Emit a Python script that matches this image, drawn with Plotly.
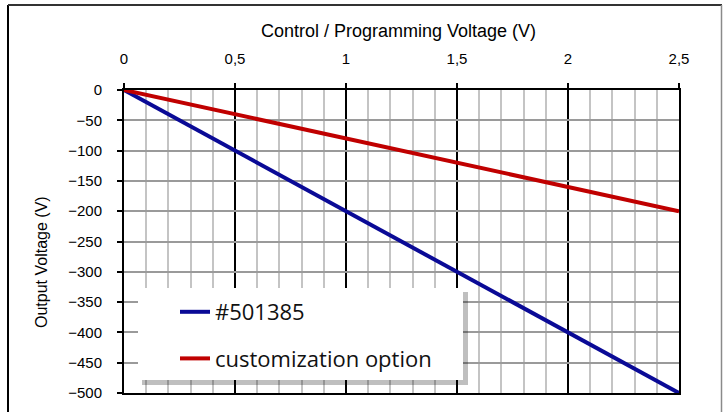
import plotly.graph_objects as go

# Data
control_voltage = [0, 0.5, 1, 1.5, 2, 2.5]
output_501385 = [0, -100, -200, -300, -400, -500]
output_custom = [0, -40, -80, -120, -160, -200]
series_names = ["#501385", "customization option"]
x_tick_vals = [0, 0.5, 1, 1.5, 2, 2.5]
y_tick_vals = [0, -50, -100, -150, -200, -250, -300, -350, -400, -450, -500]

W, H = 723, 412
L, R, T, B = 124, 44, 90, 19
pw, ph = W - L - R, H - T - B

def px_x(px):
    return (px - L) / pw

def px_y(py):
    return (H - B - py) / ph

fig = go.Figure()
fig.add_trace(go.Scatter(x=control_voltage, y=output_501385, mode="lines",
                         name=series_names[0], legendgroup="a",
                         line=dict(color="#0a0a96", width=4)))
fig.add_trace(go.Scatter(x=control_voltage, y=output_custom, mode="lines",
                         name=series_names[1], legendgroup="b",
                         line=dict(color="#c00000", width=4)))

tick_font = dict(family="Liberation Sans, Arial", size=15, color="#000")

fig.update_layout(
    width=W, height=H,
    margin=dict(l=L, r=R, t=T, b=B, pad=0),
    paper_bgcolor="white", plot_bgcolor="white",
    separators=",.",
    showlegend=True,
    legend=dict(x=px_x(175), y=px_y(291), xanchor="left", yanchor="top",
                bgcolor="rgba(0,0,0,0)", borderwidth=0,
                font=dict(family="Open Sans", size=22, color="#111"),
                tracegroupgap=15, traceorder="grouped"),
    xaxis=dict(side="top", range=[0, 2.5], tickvals=x_tick_vals,
               showgrid=True, gridcolor="#000", gridwidth=2,
               minor=dict(dtick=0.1, showgrid=True, gridcolor="#c4c4c4", gridwidth=1.5),
               showline=True, linecolor="#000", linewidth=2, mirror=True,
               ticks="outside", ticklen=5, tickwidth=2, tickcolor="#000",
               ticklabelstandoff=13, tickfont=tick_font, zeroline=False),
    yaxis=dict(range=[-500, 0], tickvals=y_tick_vals,
               showgrid=True, gridcolor="#9a9a9a", gridwidth=2,
               showline=True, linecolor="#000", linewidth=2, mirror=True,
               ticks="outside", ticklen=5, tickwidth=2, tickcolor="#000",
               ticklabelstandoff=12, tickfont=tick_font, zeroline=False),
)

# Titles
fig.add_annotation(text="Control / Programming Voltage (V)", xref="paper", yref="paper",
                   x=px_x(398), y=px_y(31), showarrow=False, xanchor="center", yanchor="middle",
                   font=dict(family="Liberation Sans, Arial", size=18, color="#000"))
fig.add_annotation(text="Output Voltage (V)", xref="paper", yref="paper",
                   x=px_x(41), y=px_y(262), showarrow=False, textangle=-90,
                   xanchor="center", yanchor="middle",
                   font=dict(family="Liberation Sans, Arial", size=16, color="#000"))

# Legend box with shadow
fig.add_shape(type="rect", xref="paper", yref="paper", layer="above",
              x0=px_x(142), x1=px_x(468), y0=px_y(385), y1=px_y(292),
              fillcolor="rgba(0,0,0,0.25)", line=dict(width=0))
fig.add_shape(type="rect", xref="paper", yref="paper", layer="above",
              x0=px_x(138), x1=px_x(463), y0=px_y(380), y1=px_y(288),
              fillcolor="white", line=dict(width=0))

# Outer frame
fig.add_shape(type="line", xref="paper", yref="paper", layer="above",
              x0=px_x(8), x1=px_x(8), y0=px_y(5), y1=px_y(420),
              line=dict(color="#000", width=2))
fig.add_shape(type="line", xref="paper", yref="paper", layer="above",
              x0=px_x(8), x1=px_x(722), y0=px_y(5), y1=px_y(5),
              line=dict(color="#333", width=2))
fig.add_shape(type="line", xref="paper", yref="paper", layer="above",
              x0=px_x(721.5), x1=px_x(721.5), y0=px_y(5), y1=px_y(420),
              line=dict(color="#8a8a8a", width=1.5))

fig.write_html("out.html",
               config={"displayModeBar": False},
               post_script="document.body.style.margin='0';document.body.style.overflow='hidden';")
